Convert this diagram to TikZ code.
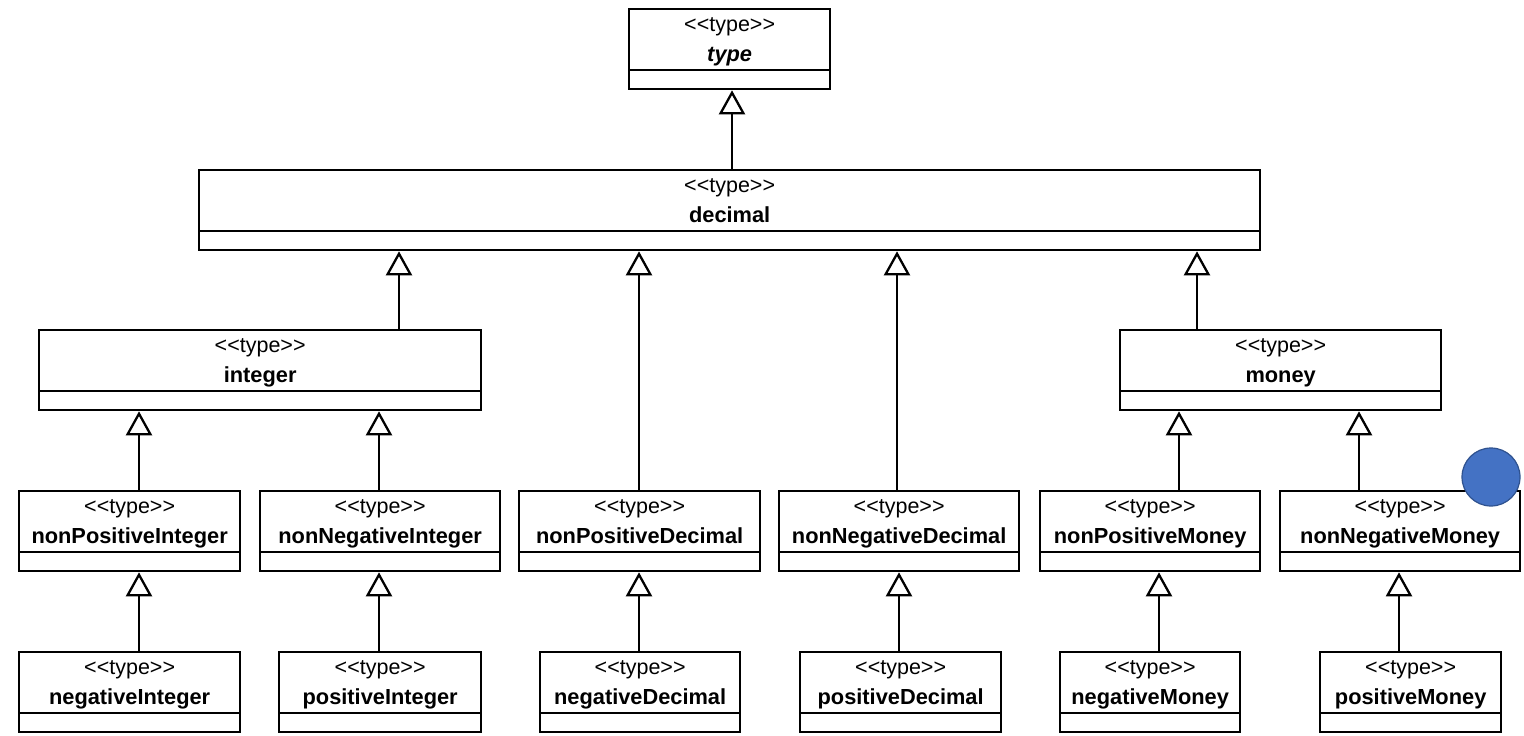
\documentclass[tikz,border=0pt]{standalone}
\usepackage{fontspec}
\newfontfamily\umlfont{Liberation Sans}[Ligatures=TeXOff]
\usetikzlibrary{arrows.meta}

\definecolor{dotfill}{HTML}{4472C4}
\definecolor{dotedge}{HTML}{2F528F}

% stereotype guillemets written as two separate angle brackets
\newcommand\stereotype{<\kern0pt<type>\kern0pt>}

\tikzset{
  classbox/.style={draw, line width=2.3pt, rectangle, inner sep=0pt,
    minimum height=80pt, anchor=north west},
  classrule/.style={line width=2.3pt},
  stereolabel/.style={anchor=base, inner sep=0pt,
    font=\umlfont\fontsize{21.5}{25}\selectfont},
  namelabel/.style={anchor=base, inner sep=0pt,
    font=\umlfont\bfseries\fontsize{21.8}{25}\selectfont},
  generalizes/.style={line width=2.3pt,
    -{Triangle[open, length=24pt, width=26pt, line width=2.3pt]}},
  marker/.style={circle, fill=dotfill, draw=dotedge, line width=1.2pt,
    minimum size=58pt, inner sep=0pt}
}

% \umlclass{node name}{left}{right}{top}{class name as printed}
\newcommand\umlclass[5]{%
  \pgfmathsetmacro\classwidth{#3-#2}%
  \node[classbox, minimum width=\classwidth pt] (#1) at (#2,#4) {};
  \draw[classrule] ([yshift=20pt]#1.south west) -- ([yshift=20pt]#1.south east);
  \node[stereolabel] (#1-st) at ([yshift=-23pt]#1.north) {\stereotype};
  \node[namelabel] (#1-nm) at ([yshift=-53.5pt]#1.north) {#5};
}

\begin{document}
\begin{tikzpicture}[x=1pt, y=-1pt]
  \useasboundingbox (0,0) rectangle (1524,736);

  % root and first level
  \umlclass{type}{628}{829}{8}{\itshape type}
  \umlclass{decimal}{198}{1259}{169}{decimal}

  % second level
  \umlclass{integer}{38}{480}{329}{integer}
  \umlclass{money}{1119}{1440}{329}{money}

  % third level
  \umlclass{nonPosInt}{18}{239}{490}{nonPositiveInteger}
  \umlclass{nonNegInt}{259}{499}{490}{nonNegativeInteger}
  \umlclass{nonPosDec}{518}{759}{490}{nonPositiveDecimal}
  \umlclass{nonNegDec}{778}{1018}{490}{nonNegativeDecimal}
  \umlclass{nonPosMon}{1039}{1259}{490}{nonPositiveMoney}
  \umlclass{nonNegMon}{1279}{1519}{490}{nonNegativeMoney}

  % fourth level
  \umlclass{negInt}{18}{239}{651}{negativeInteger}
  \umlclass{posInt}{278}{480}{651}{positiveInteger}
  \umlclass{negDec}{539}{739}{651}{negativeDecimal}
  \umlclass{posDec}{799}{1000}{651}{positiveDecimal}
  \umlclass{negMon}{1059}{1239}{651}{negativeMoney}
  \umlclass{posMon}{1319}{1500}{651}{positiveMoney}

  % generalization arrows, child to parent
  \draw[generalizes] (decimal.north -| 732,0) -- (type.south -| 732,0);
  \draw[generalizes] (integer.north -| 399,0) -- (decimal.south -| 399,0);
  \draw[generalizes] (nonPosDec.north -| 639,0) -- (decimal.south -| 639,0);
  \draw[generalizes] (nonNegDec.north -| 897,0) -- (decimal.south -| 897,0);
  \draw[generalizes] (money.north -| 1197,0) -- (decimal.south -| 1197,0);

  \draw[generalizes] (nonPosInt.north -| 139,0) -- (integer.south -| 139,0);
  \draw[generalizes] (nonNegInt.north -| 379,0) -- (integer.south -| 379,0);
  \draw[generalizes] (nonPosMon.north -| 1179,0) -- (money.south -| 1179,0);
  \draw[generalizes] (nonNegMon.north -| 1359,0) -- (money.south -| 1359,0);

  \draw[generalizes] (negInt.north -| 139,0) -- (nonPosInt.south -| 139,0);
  \draw[generalizes] (posInt.north -| 379,0) -- (nonNegInt.south -| 379,0);
  \draw[generalizes] (negDec.north -| 639,0) -- (nonPosDec.south -| 639,0);
  \draw[generalizes] (posDec.north -| 899,0) -- (nonNegDec.south -| 899,0);
  \draw[generalizes] (negMon.north -| 1159,0) -- (nonPosMon.south -| 1159,0);
  \draw[generalizes] (posMon.north -| 1399,0) -- (nonNegMon.south -| 1399,0);

  % round marker over the corner of nonNegativeMoney
  \node[marker] (dot) at (1491,477) {};
\end{tikzpicture}
\end{document}
